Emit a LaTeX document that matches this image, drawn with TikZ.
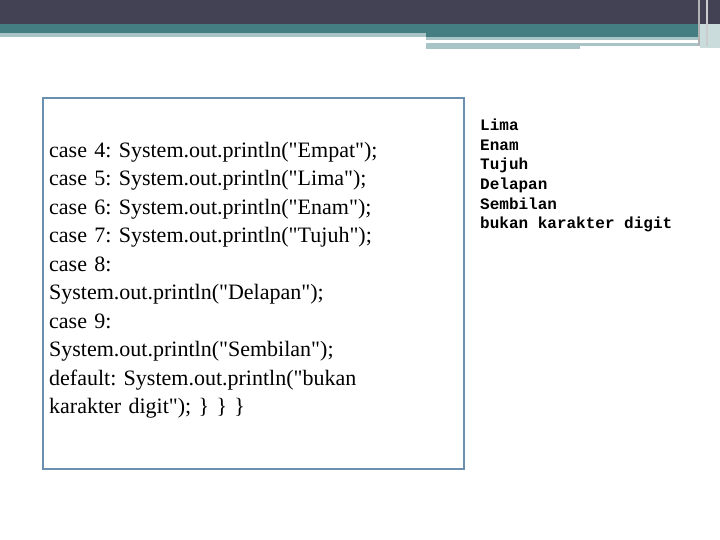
\documentclass[tikz,border=0pt]{standalone}
\usepackage{fontspec}
\newfontfamily\codefont{Liberation Serif}
\setmonofont{Liberation Mono}
\definecolor{dark}{HTML}{424254}
\definecolor{tealc}{HTML}{457E82}
\definecolor{lite}{HTML}{A8C4C6}
\definecolor{boxc}{HTML}{6A8FAF}
\frenchspacing
\begin{document}
\begin{tikzpicture}[x=1pt,y=-1pt,
 code/.style={anchor=north west,align=left,inner sep=0pt,font=\codefont\fontsize{22}{28.5}\selectfont,text width=414pt},
 outtext/.style={anchor=north west,align=left,inner sep=0pt,font=\ttfamily\bfseries\fontsize{16}{19.6}\selectfont}]
\useasboundingbox (0,0) rectangle (720,540);
\fill[white] (0,0) rectangle (720,540);
\fill[dark] (0,0) rectangle (720,24);
\fill[tealc] (0,24) rectangle (720,33);
\fill[lite] (0,33) rectangle (426,37);
\fill[tealc] (426,33) rectangle (720,37);
\fill[lite] (426,37) rectangle (700,40);
\fill[lite] (426,43) rectangle (580,49);
\fill[lite] (580,43) rectangle (700,46);
\fill[lite!60] (700,24) rectangle (720,48);
\fill[gray!60] (698,0) rectangle (700,46);
\fill[gray!40] (706,0) rectangle (708,46);
\node[draw=boxc,line width=2pt,minimum width=421pt,minimum height=371pt,anchor=north west] (box) at (42,97) {};
\node[code] (c) at (49,142) {case 4: System.out.println("Empat");\\
case 5: System.out.println("Lima");\\
case 6: System.out.println("Enam");\\
case 7: System.out.println("Tujuh");\\
case 8:\\
System.out.println("Delapan");\\
case 9:\\
System.out.println("Sembilan");\\
default: System.out.println("bukan\\
karakter digit"); \} \} \}};
\node[outtext] (o) at (480,119) {Lima\\Enam\\Tujuh\\Delapan\\Sembilan\\bukan karakter digit};
\end{tikzpicture}
\end{document}
